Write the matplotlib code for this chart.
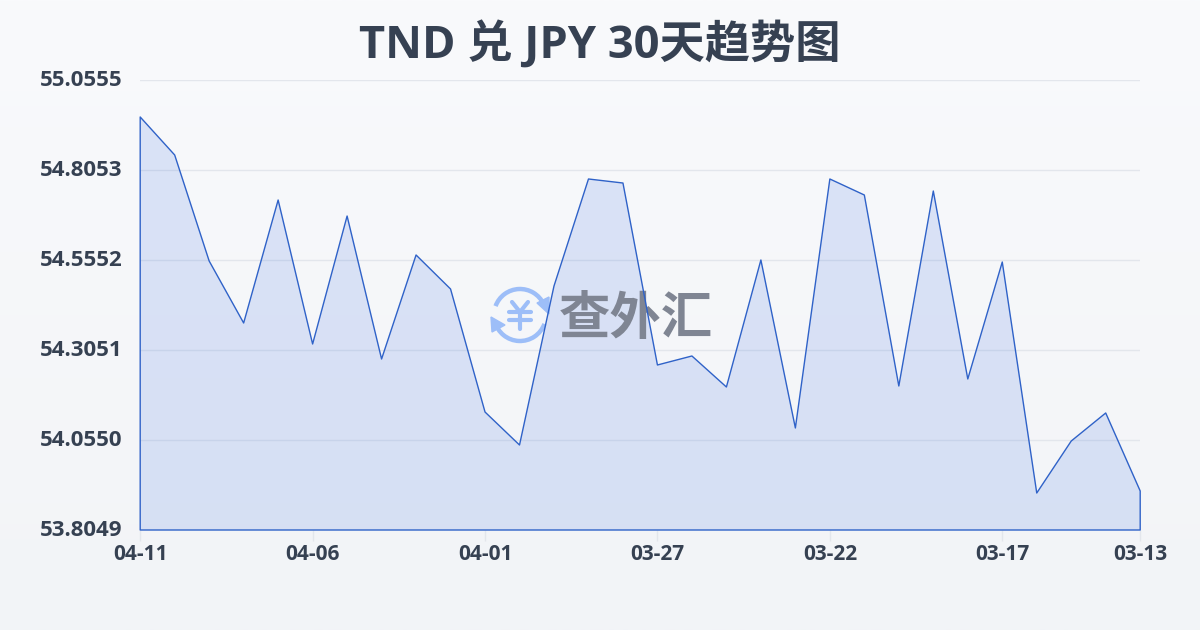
import numpy as np
import matplotlib
matplotlib.use('Agg')
import matplotlib.pyplot as plt
from matplotlib.colors import LinearSegmentedColormap, to_rgba
from matplotlib.patches import Arc, Polygon
from matplotlib.transforms import ScaledTranslation

plt.rcParams['font.family'] = ['Open Sans', 'Noto Sans CJK SC', 'DejaVu Sans']

title = 'TND 兑 JPY 30天趋势图'
# newest first, same as the picture
dates = ['04-11', '04-10', '04-09', '04-08', '04-07', '04-06', '04-05', '04-04', '04-03', '04-02',
         '04-01', '03-31', '03-30', '03-29', '03-28', '03-27', '03-26', '03-25', '03-24', '03-23',
         '03-22', '03-21', '03-20', '03-19', '03-18', '03-17', '03-16', '03-15', '03-14', '03-13']
rates = [54.9527, 54.8471, 54.5525, 54.3802, 54.7220, 54.3218, 54.6775, 54.2801, 54.5692, 54.4747,
         54.1328, 54.0411, 54.4830, 54.7804, 54.7692, 54.2635, 54.2885, 54.2023, 54.5553, 54.0884,
         54.7804, 54.7359, 54.2051, 54.7470, 54.2246, 54.5497, 53.9077, 54.0522, 54.1301, 53.9133]
y_ticks = [53.8049, 54.0550, 54.3051, 54.5552, 54.8053, 55.0555]
x_tick_pos = [0, 5, 10, 15, 20, 25, 29]

text_color = '#364152'
line_color = '#2f62c8'
logo_blue = '#9dbef8'
logo_gray = '#7f8593'

fig = plt.figure(figsize=(12, 6.3), dpi=100)

# background gradient
bg = fig.add_axes([0, 0, 1, 1], zorder=0)
cmap = LinearSegmentedColormap.from_list('bg', ['#f9fafc', '#f2f4f7'])
bg.imshow(np.linspace(0, 1, 256).reshape(-1, 1), aspect='auto', cmap=cmap, extent=[0, 1200, 630, 0])
bg.set_xlim(0, 1200)
bg.set_ylim(630, 0)
bg.axis('off')

pos = [140.2 / 1200, 1 - 530 / 630, 1000 / 1200, 450 / 630]
x = np.arange(len(rates))

# area goes under the watermark, outline above it
ax = fig.add_axes(pos, zorder=1)
ax.patch.set_alpha(0)
ax.fill_between(x, rates, y_ticks[0], facecolor=to_rgba('#3468e0', 0.15), linewidth=0, zorder=3)
ax.set_xlim(0, len(rates) - 1)
ax.set_ylim(y_ticks[0], y_ticks[-1])

ax.set_yticks(y_ticks)
ax.set_yticklabels(['%.4f' % v for v in y_ticks])
ax.set_xticks(x_tick_pos)
ax.set_xticklabels([dates[i] for i in x_tick_pos])
ax.grid(axis='y', color='#e3e6ec', linewidth=1, zorder=1)
ax.tick_params(axis='y', length=0, pad=13, labelsize=16, labelcolor=text_color)
ax.tick_params(axis='x', length=8, width=1, color='#e3e6ec', pad=2, labelsize=15, labelcolor=text_color)
for lab in ax.get_xticklabels() + ax.get_yticklabels():
    lab.set_fontweight('bold')
# y labels sit a little above their grid lines
shift_up = ScaledTranslation(0, 1.5 / 72, fig.dpi_scale_trans)
for lab in ax.get_yticklabels():
    lab.set_transform(lab.get_transform() + shift_up)
for sp in ax.spines.values():
    sp.set_visible(False)

# watermark, in pixel coords
wm = fig.add_axes([0, 0, 1, 1], zorder=2)
wm.patch.set_alpha(0)
wm.set_xlim(0, 1200)
wm.set_ylim(630, 0)
wm.axis('off')
wm.add_patch(Arc((520, 315), 52, 52, theta1=20, theta2=165, color=logo_blue, lw=3.2))
wm.add_patch(Arc((520, 315), 52, 52, theta1=200, theta2=335, color=logo_blue, lw=3.2))
wm.add_patch(Polygon([[549, 297], [549, 314], [537, 303]], color=logo_blue))
wm.add_patch(Polygon([[491, 317], [505, 325], [492, 332]], color=logo_blue))
for seg in [[(512, 302), (520, 312)], [(528, 302), (520, 312)], [(509, 312), (531, 312)],
            [(509, 320), (531, 320)], [(520, 312), (520, 329)]]:
    wm.plot([seg[0][0], seg[1][0]], [seg[0][1], seg[1][1]], color=logo_blue, lw=3, solid_capstyle='round')
wm.text(636, 321, '查外汇', fontsize=37, fontweight='bold', color=logo_gray, ha='center', va='center')

top = fig.add_axes(pos, zorder=3)
top.patch.set_alpha(0)
top.fill_between(x, rates, y_ticks[0], facecolor='none', edgecolor=line_color, linewidth=1, clip_on=False)
top.set_xlim(0, len(rates) - 1)
top.set_ylim(y_ticks[0], y_ticks[-1])
top.axis('off')

fig.text(600 / 1200, 1 - 46 / 630, title, fontsize=32.6, fontweight='bold', color=text_color, ha='center', va='center')

fig.savefig('out.png', dpi=100)
